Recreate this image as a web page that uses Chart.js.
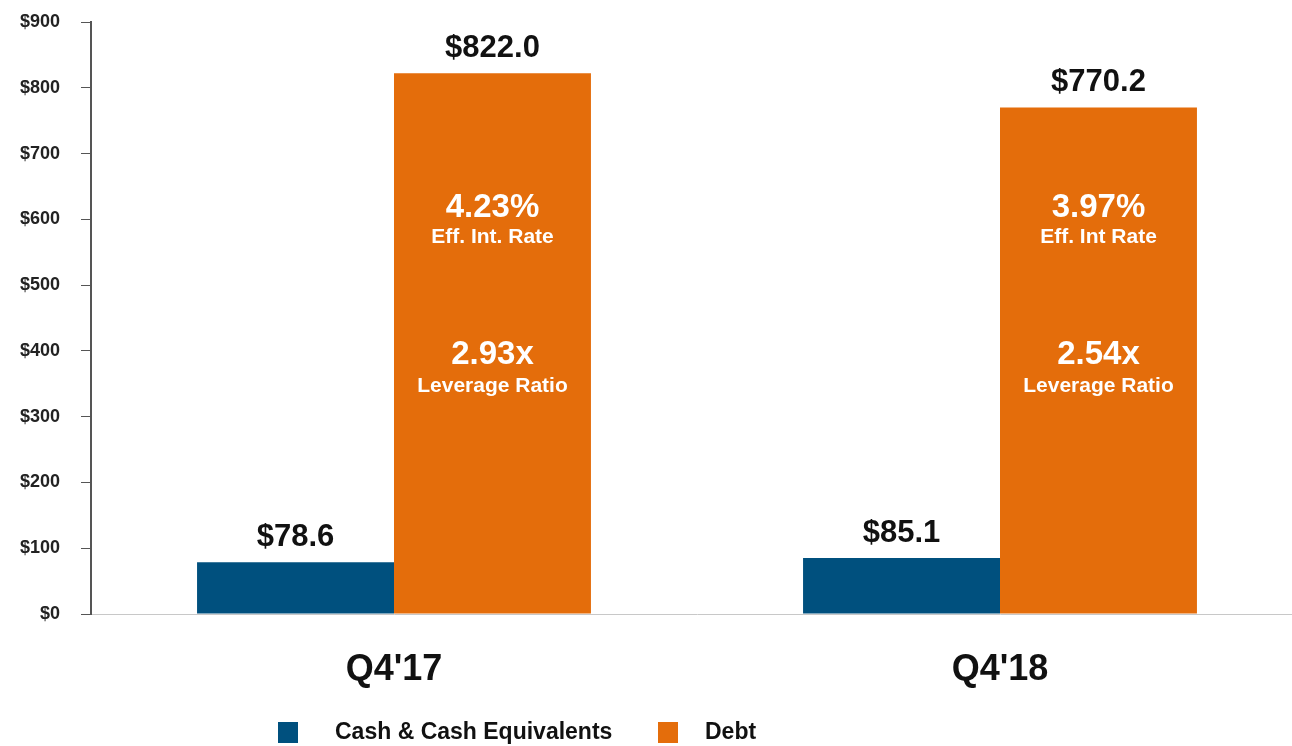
<!DOCTYPE html>
<html lang="en">
<head>
    <meta charset="UTF-8">
    <title>Cash and Debt</title>
    <script src="https://cdn.jsdelivr.net/npm/chart.js"></script>
    <style>
        html, body { margin: 0; padding: 0; background: #fff; overflow: hidden; }
        /* plot runs slightly past the right edge in the original */
        #wrap { width: 1303px; height: 746px; }
    </style>
</head>
<body>
<div id="wrap"><canvas id="debt-chart"></canvas></div>
<script>
    // Data
    const quarters = ["Q4'17", "Q4'18"];
    const cashValues = [78.6, 85.1];
    const debtValues = [822.0, 770.2];
    const rateValues = ['4.23%', '3.97%'];
    const rateNames = ['Eff. Int. Rate', 'Eff. Int Rate'];
    const leverageValues = ['2.93x', '2.54x'];
    const leverageNames = ['Leverage Ratio', 'Leverage Ratio'];
    const seriesNames = ['Cash & Cash Equivalents', 'Debt'];
    const seriesColors = ['#00507e', '#e46d0b'];

    const FONT = '"Liberation Sans", Arial, sans-serif';

    // value labels above bars + notes inside the debt bars
    const labelPlugin = {
        id: 'labels',
        afterDatasetsDraw(chart) {
            const ctx = chart.ctx;
            const y = chart.scales.y;
            ctx.save();
            ctx.textAlign = 'center';
            ctx.textBaseline = 'bottom';
            chart.data.datasets.forEach((ds, i) => {
                chart.getDatasetMeta(i).data.forEach((bar, j) => {
                    ctx.fillStyle = '#111';
                    ctx.font = 'bold 31px ' + FONT;
                    ctx.fillText('$' + ds.data[j].toFixed(1), bar.x, bar.y - 9);
                });
            });
            const debtBars = chart.getDatasetMeta(1).data;
            ctx.fillStyle = '#fff';
            ctx.textBaseline = 'middle';
            debtBars.forEach((bar, j) => {
                ctx.font = 'bold 33px ' + FONT;
                ctx.fillText(rateValues[j], bar.x, y.getPixelForValue(617));
                ctx.fillText(leverageValues[j], bar.x, y.getPixelForValue(394));
                ctx.font = 'bold 21px ' + FONT;
                ctx.fillText(rateNames[j], bar.x, y.getPixelForValue(573));
                ctx.fillText(leverageNames[j], bar.x, y.getPixelForValue(346));
            });
            ctx.restore();
        },
        afterDraw(chart) {
            // legend drawn by hand to get the wide gap between swatch and text
            const ctx = chart.ctx;
            const items = [{ x: 278, textX: 335 }, { x: 658, textX: 705 }];
            ctx.save();
            ctx.font = 'bold 23px ' + FONT;
            ctx.textBaseline = 'middle';
            ctx.textAlign = 'left';
            items.forEach((it, i) => {
                ctx.fillStyle = seriesColors[i];
                ctx.fillRect(it.x, 722, 20, 21);
                ctx.fillStyle = '#111';
                ctx.fillText(seriesNames[i], it.textX, 733);
            });
            ctx.restore();
        }
    };

    const ctx = document.getElementById('debt-chart').getContext('2d');
    const chart = new Chart(ctx, {
        type: 'bar',
        data: {
            labels: quarters,
            datasets: [{
                label: seriesNames[0],
                data: cashValues,
                backgroundColor: seriesColors[0]
            }, {
                label: seriesNames[1],
                data: debtValues,
                backgroundColor: seriesColors[1]
            }]
        },
        options: {
            responsive: true,
            maintainAspectRatio: false,
            animation: false,
            categoryPercentage: 0.65,
            barPercentage: 1.0,
            layout: { padding: { top: 22, right: 0, left: 0, bottom: 0 } },
            plugins: {
                legend: { display: false },
                tooltip: { enabled: false }
            },
            scales: {
                x: {
                    grid: { display: false },
                    border: { color: '#c8c8c8', width: 1 },
                    ticks: {
                        color: '#111',
                        padding: 26,
                        font: { family: FONT, size: 36, weight: 'bold' }
                    },
                    afterFit(scale) {
                        scale.height = 132;
                        scale.paddingLeft = 0;
                        scale.paddingRight = 0;
                    }
                },
                y: {
                    min: 0,
                    max: 900,
                    grid: {
                        drawOnChartArea: false,
                        drawTicks: true,
                        tickLength: 10,
                        color: '#555'
                    },
                    border: { color: '#555', width: 2 },
                    ticks: {
                        stepSize: 100,
                        padding: 21,
                        color: '#222',
                        font: { family: FONT, size: 18, weight: 'bold' },
                        callback: v => '$' + v
                    },
                    afterFit(scale) {
                        scale.width = 91;
                        scale.paddingTop = 0;
                        scale.paddingBottom = 0;
                    }
                }
            }
        },
        plugins: [labelPlugin]
    });
</script>
</body>
</html>
